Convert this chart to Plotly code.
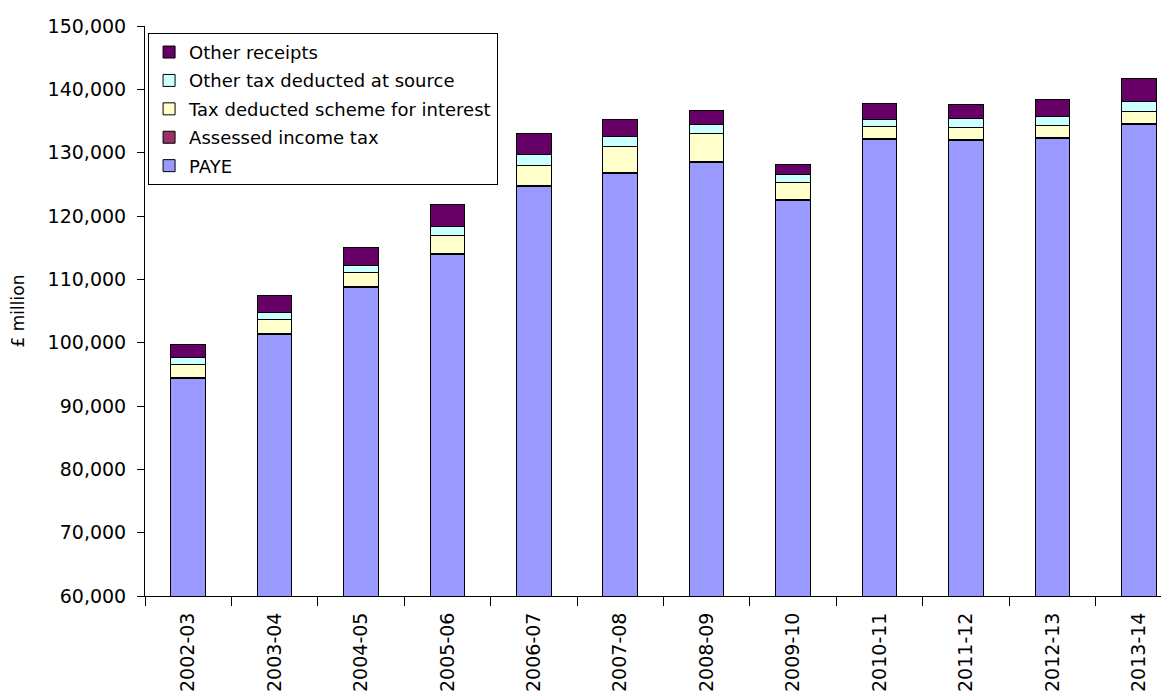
import plotly.graph_objects as go

years = ["2002-03", "2003-04", "2004-05", "2005-06", "2006-07", "2007-08",
         "2008-09", "2009-10", "2010-11", "2011-12", "2012-13", "2013-14"]

paye = [94350, 101350, 108700, 113900, 124700, 126700, 128400, 122500, 132100, 132000, 132300, 134500]
assessed = [120, 120, 120, 120, 120, 150, 150, 120, 120, 120, 120, 120]
tax_deducted_interest = [2123, 2158, 2331, 2967, 3208, 4125, 4415, 2727, 1960, 1792, 1870, 1926]
other_tax_source = [1104, 1104, 1057, 1420, 1688, 1530, 1530, 1151, 1057, 1419, 1467, 1577]
other_receipts = [2051, 2681, 2776, 3470, 3312, 2682, 2161, 1641, 2460, 2319, 2634, 3580]

series = [
    ("PAYE", paye, "#9999FF", 5),
    ("Assessed income tax", assessed, "#993366", 4),
    ("Tax deducted scheme for interest", tax_deducted_interest, "#FFFFCC", 3),
    ("Other tax deducted at source", other_tax_source, "#CCFFFF", 2),
    ("Other receipts", other_receipts, "#660066", 1),
]

FONT = "DejaVu Sans, Arial, sans-serif"

fig = go.Figure()
for name, vals, col, rank in series:
    fig.add_trace(go.Bar(
        x=years, y=vals, name=name, legendgroup=name, legendrank=rank,
        marker=dict(color=col, line=dict(color="black", width=1)),
    ))

W, H = 1161, 687
L, T, B, R = 137, 18, 99, 0

fig.update_layout(
    width=W, height=H,
    barmode="stack", bargap=0.6,
    plot_bgcolor="white", paper_bgcolor="white",
    margin=dict(l=L, r=R, t=T, b=B, autoexpand=False),
    font=dict(family=FONT, size=18, color="black"),
    showlegend=True,
    legend=dict(
        x=0.003, y=0.988, xanchor="left", yanchor="top",
        traceorder="grouped", tracegroupgap=2,
        bordercolor="black", borderwidth=1, bgcolor="white",
        font=dict(family=FONT, size=18, color="black"),
        itemwidth=30,
    ),
    xaxis=dict(
        type="category", range=[-0.5, 11.35],
        showline=True, linecolor="black", linewidth=1,
        ticks="outside", tickson="boundaries", ticklen=9, tickcolor="black",
        tickangle=-90, showgrid=False, ticklabelstandoff=8,
        tickfont=dict(family=FONT, size=19, color="black"),
    ),
    yaxis=dict(
        range=[60000, 150000], dtick=10000, tickformat=",",
        showline=True, linecolor="black", linewidth=1,
        ticks="outside", ticklen=7, tickcolor="black", showgrid=False,
        zeroline=False, ticklabelstandoff=7,
        tickfont=dict(family=FONT, size=19, color="black"),
        title=dict(text="£ million", standoff=22,
                   font=dict(family=FONT, size=17, color="black")),
    ),
)

fig.write_html("out.html")
